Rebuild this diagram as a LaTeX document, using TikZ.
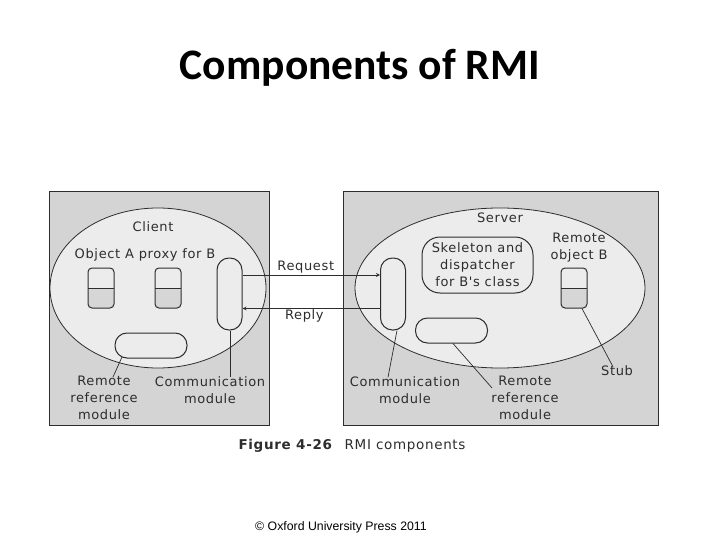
\documentclass[tikz,border=0pt]{standalone}
\usepackage{fontspec}
\setmainfont{DejaVu Sans}
\newfontfamily\lblfont[LetterSpace=5]{DejaVu Sans}
\newfontfamily\titlefont{Carlito}
\newfontfamily\notefont{Liberation Sans}
\usepackage{xcolor}
\usetikzlibrary{shapes,arrows,positioning}

\definecolor{panelgray}{RGB}{212,212,212}
\definecolor{hostgray}{RGB}{236,236,236}
\definecolor{halfgray}{RGB}{214,214,214}
\definecolor{inkgray}{RGB}{45,45,45}

\begin{document}
\begin{tikzpicture}[x=1pt, y=-1pt,
    panel/.style={draw=inkgray, fill=panelgray, line width=1pt, inner sep=0pt},
    host/.style={ellipse, draw=inkgray, fill=hostgray, line width=0.8pt, inner sep=0pt},
    proxy/.style={draw=inkgray, fill=hostgray, line width=1pt, rounded corners=4pt,
        minimum width=26pt, minimum height=40pt, inner sep=0pt,
        path picture={
            \fill[halfgray] (path picture bounding box.west) rectangle (path picture bounding box.south east);
            \draw[inkgray, line width=0.8pt] (path picture bounding box.west) -- (path picture bounding box.east);}},
    commmod/.style={draw=inkgray, fill=hostgray, line width=1pt, rounded corners=12pt,
        minimum width=25pt, minimum height=72pt, inner sep=0pt},
    refmod/.style={draw=inkgray, fill=hostgray, line width=1pt, rounded corners=12pt,
        minimum width=72pt, minimum height=25pt, inner sep=0pt},
    label/.style={font=\lblfont\fontsize{13}{17}\selectfont, text=inkgray, align=center, inner sep=1pt},
    leader/.style={draw=inkgray, line width=0.7pt},
    arrow/.style={->, >=stealth, draw=inkgray, line width=0.8pt}
]
\useasboundingbox (0,0) rectangle (720,540);

\node[font=\titlefont\bfseries\fontsize{43.5}{50}\selectfont] (title) at (360,68) {Components of RMI};

% client side
\node[panel, minimum width=220pt, minimum height=233pt] (cpanel) at (159,308.5) {};
\node[host, minimum width=216pt, minimum height=160pt] (client) at (158,288) {};
\node[label] (clientlbl) at (153,227) {Client};
\node[label] (objlbl) at (145,255) {Object A proxy for B};
\node[proxy] (objA) at (101,288) {};
\node[proxy] (proxyB) at (168,288) {};
\node[commmod] (ccomm) at (229.5,294) {};
\node[refmod] (cref) at (151,345.5) {};
\node[label] (creflbl) at (104,398) {Remote\\reference\\module};
\node[label] (ccommlbl) at (210,390) {Communication\\module};
\draw[leader] ([xshift=-29pt,yshift=1.5pt]cref.south) -- ([xshift=9pt,yshift=-2pt]creflbl.north);
\draw[leader] ([xshift=0.5pt]ccomm.south) -- ([xshift=20pt,yshift=-2pt]ccommlbl.north);

% server side
\node[panel, minimum width=315pt, minimum height=233pt] (spanel) at (500.5,308.5) {};
\node[host, minimum width=290pt, minimum height=160pt] (server) at (500,288) {};
\node[label] (serverlbl) at (500,218) {Server};
\node[commmod] (scomm) at (393,294) {};
\node[draw=inkgray, fill=hostgray, line width=1pt, rounded corners=18pt,
      minimum width=111pt, minimum height=56pt, label, inner sep=0pt] (skel) at (477.5,265)
      {Skeleton and\\dispatcher\\for B's class};
\node[refmod] (sref) at (451.5,330.5) {};
\node[label] (remBlbl) at (579,248) {Remote\\object B};
\node[proxy] (stub) at (574,288) {};
\node[label] (stublbl) at (617,371) {Stub};
\node[label] (scommlbl) at (405,390) {Communication\\module};
\node[label] (sreflbl) at (525,398) {Remote\\reference\\module};
\draw[leader] ([xshift=4pt]scomm.south) -- ([xshift=-17pt,yshift=-2pt]scommlbl.north);
\draw[leader] ([xshift=1.5pt]sref.south) -- ([xshift=-33pt,yshift=-13pt]sreflbl.north);
\draw[leader] ([xshift=8pt]stub.south) -- ([xshift=-4pt,yshift=-2pt]stublbl.north);

% messages
\draw[arrow] ([yshift=19pt]ccomm.east) -- node[label, above, pos=0.46] (reqlbl) {Request} ([yshift=19pt]scomm.west);
\draw[arrow] ([yshift=-14.5pt]scomm.west) -- node[label, below, pos=0.55] (replbl) {Reply} ([yshift=-14.5pt]ccomm.east);

\node[font=\lblfont\fontsize{13.5}{15}\selectfont, text=inkgray] (caption) at (352,446)
    {\textbf{Figure 4-26}\hspace{12pt}RMI components};

\node[font=\notefont\fontsize{12.3}{14}\selectfont] (copy) at (341,527) {© Oxford University Press 2011};
\end{tikzpicture}
\end{document}
